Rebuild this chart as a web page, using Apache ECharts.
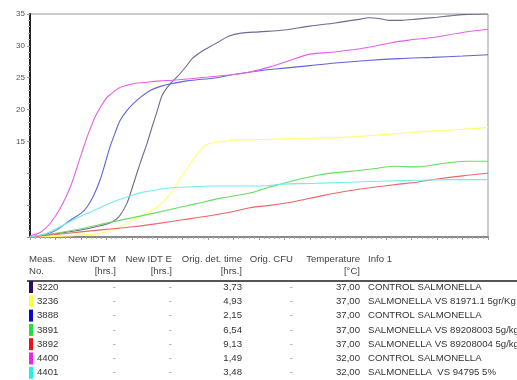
<!DOCTYPE html>
<html><head><meta charset="utf-8">
<script src="https://cdn.jsdelivr.net/npm/echarts@6/dist/echarts.min.js"></script>
<style>html,body{margin:0;padding:0;background:#fff}#c{width:517px;height:380px}</style>
</head><body><div id="c"></div>
<script>
// ---- data ----
const measNo = ['3220','3236','3888','3891','3892','4400','4401'];
const newIdtM = ['-','-','-','-','-','-','-'];
const newIdtE = ['-','-','-','-','-','-','-'];
const origDetTime = ['3,73','4,93','2,15','6,54','9,13','1,49','3,48'];
const origCfu = ['-','-','-','-','-','-','-'];
const temperature = ['37,00','37,00','37,00','37,00','37,00','32,00','32,00'];
const info1 = ['CONTROL SALMONELLA','SALMONELLA VS 81971.1 5gr/Kg','CONTROL SALMONELLA','SALMONELLA VS 89208003 5g/kg','SALMONELLA VS 89208004 5g/kg','CONTROL SALMONELLA','SALMONELLA  VS 94795 5%'];
const yTickLabels = ['15','20','25','30','35'];

const t3220 = [0,1,2,2.8,3.2,3.5,3.8,4.0,4.2,4.4,4.6,4.8,5.0,5.2,5.5,5.8,6.1,6.4,6.7,7.0,7.4,7.8,8.3,9,10,11,12,13,13.3,13.7,14.1,14.6,15.2,16,16.5,17,18];
const v3220 = [0,0.5,1.1,1.8,2.3,3.2,5.2,7.5,10,12.4,14.7,17.3,19.8,22.3,24,25.2,26.6,28.1,29.0,29.7,30.6,31.5,32,32.2,32.5,33.1,33.6,34.2,34.4,34.3,34.0,34.0,34.2,34.5,34.7,34.9,35];
const t3236 = [0,1,2,2.75,3.5,4.05,4.5,5.0,5.4,5.78,6.0,6.29,6.55,6.8,7.0,7.2,7.6,8.0,9,10,11,12,13,14,15,16,17,18];
const v3236 = [0,0.1,0.3,0.6,1.5,2.7,3.6,4.7,6.2,8.4,9.8,11.5,12.9,14.1,14.6,14.8,15.0,15.2,15.3,15.4,15.5,15.6,15.8,16.1,16.4,16.7,16.9,17.2];
const t3888 = [0,0.6,1,1.57,2.0,2.24,2.5,2.75,2.95,3.14,3.35,3.54,3.8,4.05,4.4,4.72,5.1,5.5,6.17,7.35,8,9.04,10,11,12,13.25,14.5,15.8,17,18];
const v3888 = [0,0.4,1.0,2.6,3.7,4.7,6.5,8.9,11.5,14.1,16.4,18.3,19.8,20.9,22.1,23.0,23.6,24.0,24.5,25.0,25.5,26.1,26.5,26.9,27.3,27.7,28.0,28.2,28.4,28.6];
const t3891 = [0,1,2,3.14,4,5.38,6.5,7.5,8.65,9.3,9.95,10.6,11.3,12,12.6,13.5,14.3,15.2,16,16.5,17.2,18];
const v3891 = [0,0.6,1.3,2.3,3.0,4.2,5.2,6.1,6.9,7.7,8.4,9.1,9.7,10.1,10.3,10.7,11.1,11.0,11.4,11.7,11.9,11.9];
const t3892 = [0,1,2,3,4.05,5,6,7,8,8.65,9.5,10.3,11.5,12.6,13.5,14.5,15.2,16,17,18];
const v3892 = [0,0.4,0.8,1.2,1.6,2.1,2.7,3.3,4.0,4.6,5.0,5.5,6.5,7.3,7.8,8.3,8.6,9.1,9.6,10.0];
const t4400 = [0,0.4,0.8,1.2,1.6,2.0,2.3,2.6,3.0,3.2,3.5,3.8,4.1,4.6,5.1,5.6,6.2,7,8,8.65,9.43,10.2,11,11.9,13.2,14.2,14.9,15.8,17,18];
const v4400 = [0.2,0.7,2.2,4.6,8.0,12.8,16.3,19.2,21.8,22.5,23.4,23.8,24.1,24.3,24.5,24.6,24.8,25.1,25.5,25.9,26.7,27.7,28.7,29.0,29.7,30.5,30.9,31.3,32.1,32.6];
const t4401 = [0,0.6,1.18,1.7,2.24,2.7,3.14,3.6,4.05,4.4,4.83,5.3,5.9,6.5,7.2,8,9.04,9.95,11,12.6,14,15.2,16.5,18];
const v4401 = [0,0.5,1.6,2.7,3.7,4.5,5.3,6.0,6.6,7.0,7.3,7.6,7.8,7.9,8.0,8.0,8.0,8.3,8.4,8.6,8.8,8.9,9.0,9.0];

// ---- styles ----
const swatchColors = ['#2c0c5e','#ffff40','#0a0acc','#22dd44','#ee1111','#ee22ee','#22eeee'];
const lineColors = ['#6e6a90','#ffff70','#6262da','#66dd66','#ee6666','#e660e6','#70eeee'];

const times = [t3220,t3236,t3888,t3891,t3892,t4400,t4401];
const vals = [v3220,v3236,v3888,v3891,v3892,v4400,v4401];

const series = measNo.map((id,i)=>({
  name:id, type:'line', symbol:'none', smooth:0.3, animation:false,
  lineStyle:{color:lineColors[i], width:1.1},
  data: times[i].map((t,k)=>[t, vals[i][k]])
}));

// table graphics
const g = [];
const font = '9.6px "Liberation Sans", Arial, sans-serif';
const txt = (x,y,s,align,color)=>g.push({type:'text',x:x,y:y,style:{text:s,font:font,fill:color||'#333',align:align||'left',verticalAlign:'middle'}});
const hdr1 = 259, hdr2 = 271;
txt(29,hdr1,'Meas.','left','#444'); txt(29,hdr2,'No.','left','#444');
txt(116,hdr1,'New IDT M','right','#444'); txt(116,hdr2,'[hrs.]','right','#444');
txt(172,hdr1,'New IDT E','right','#444'); txt(172,hdr2,'[hrs.]','right','#444');
txt(242,hdr1,'Orig. det. time','right','#444'); txt(242,hdr2,'[hrs.]','right','#444');
txt(293,hdr1,'Orig. CFU','right','#444');
txt(360,hdr1,'Temperature','right','#444'); txt(360,hdr2,'[°C]','right','#444');
txt(368,hdr1,'Info 1','left','#444');
g.push({type:'line',shape:{x1:27,y1:281,x2:517,y2:281},style:{stroke:'#555',lineWidth:2}});
measNo.forEach((id,i)=>{
  const y = 287 + i*14.3;
  g.push({type:'rect',shape:{x:29,y:y-6,width:4,height:12},style:{fill:swatchColors[i]}});
  txt(37,y,id);
  txt(116,y,newIdtM[i],'right','#999');
  txt(172,y,newIdtE[i],'right','#999');
  txt(242,y,origDetTime[i],'right');
  txt(293,y,origCfu[i],'right','#999');
  txt(360,y,temperature[i],'right');
  txt(368,y,info1[i],'left');
});

const chart = echarts.init(document.getElementById('c'), null, {renderer:'canvas'});
chart.setOption({
  animation:false,
  backgroundColor:'#fff',
  grid:{left:30,top:14,right:29,bottom:143,show:true,borderColor:'#999',borderWidth:1,backgroundColor:'transparent'},
  xAxis:[{
    type:'value',min:0,max:18,interval:1,
    axisLine:{show:true,onZero:false,lineStyle:{color:'#999',width:1.5}},
    axisTick:{show:true,length:3,lineStyle:{color:'#999'}},
    minorTick:{show:true,splitNumber:5,length:2,lineStyle:{color:'#aaa'}},
    axisLabel:{show:false},splitLine:{show:false}
  },{
    type:'value',min:0,max:18,position:'top',
    axisLine:{show:true,lineStyle:{color:'#888',width:2}},
    axisTick:{show:false},axisLabel:{show:false},splitLine:{show:false}
  }],
  yAxis:{
    type:'value',min:0,max:35,interval:5,
    axisLine:{show:true,onZero:false,lineStyle:{color:'#222',width:2}},
    axisTick:{show:true,length:3,lineStyle:{color:'#999'}},
    minorTick:{show:true,splitNumber:5,length:2,lineStyle:{color:'#bbb'}},
    axisLabel:{fontSize:8,color:'#555',margin:5,fontFamily:'"Liberation Sans", Arial, sans-serif',
      formatter:v=>yTickLabels.includes(String(v))?String(v):''},
    splitLine:{show:false}
  },
  series: series,
  graphic: g
});
</script></body></html>
